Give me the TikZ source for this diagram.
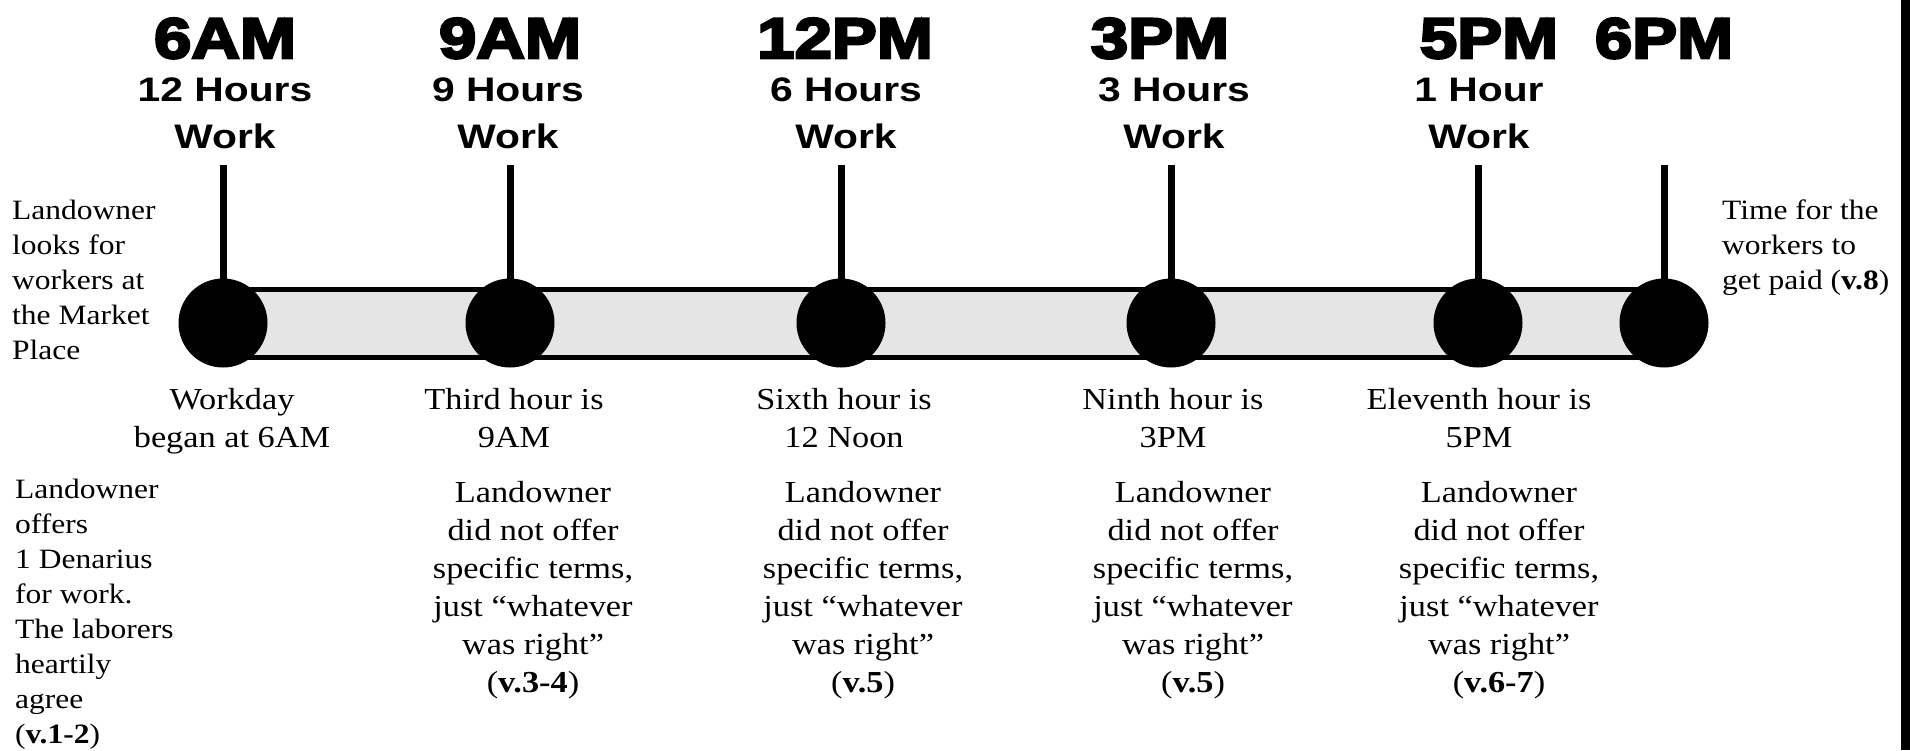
\documentclass[tikz,border=0pt]{standalone}
\usepackage{fontspec}
\setmainfont{Liberation Serif}[FakeStretch=1.125]
\newfontfamily\clockfont{Liberation Sans}[FakeStretch=1.18,BoldFeatures={FakeBold=4.5}]
\newfontfamily\hourfont{Liberation Sans}[FakeStretch=1.2]
\usetikzlibrary{positioning}
\tikzset{%
  dot/.style={circle,fill=black,inner sep=0pt,minimum size=89pt},
  stem/.style={line width=7pt},
  clock/.style={font=\clockfont\bfseries\fontsize{57}{57}\selectfont,anchor=base,inner sep=0pt},
  hours/.style={font=\hourfont\bfseries\fontsize{34}{47}\selectfont,align=center,anchor=base,inner sep=0pt},
  side/.style={font=\fontsize{28}{35}\selectfont,align=left,anchor=base west,inner sep=0pt},
  note/.style={font=\fontsize{30.5}{38}\selectfont,align=center,anchor=base,inner sep=0pt}
}

\begin{document}
\begin{tikzpicture}[x=1pt,y=-1pt]
  \useasboundingbox (0,0) rectangle (1910,750);
  \fill[black] (1901,0) rectangle (1910,750);
  %% hour marks on the bar
  \coordinate (p0) at (223,323);
  \coordinate (p1) at (510,323);
  \coordinate (p2) at (841,323);
  \coordinate (p3) at (1171,323);
  \coordinate (p4) at (1478,323);
  \coordinate (p5) at (1664,323);
  \filldraw[fill=black!10,draw=black,line width=5pt] (223,289.5) rectangle (1664,357.5);
  \coordinate (s0) at (223,165);
  \coordinate (s1) at (510,165);
  \coordinate (s2) at (841,165);
  \coordinate (s3) at (1171,165);
  \coordinate (s4) at (1478,165);
  \coordinate (s5) at (1664,165);
  \draw[stem] (s0) -- (p0);
  \draw[stem] (s1) -- (p1);
  \draw[stem] (s2) -- (p2);
  \draw[stem] (s3) -- (p3);
  \draw[stem] (s4) -- (p4);
  \draw[stem] (s5) -- (p5);
  \node[dot] (d0) at (p0) {};
  \node[dot] (d1) at (p1) {};
  \node[dot] (d2) at (p2) {};
  \node[dot] (d3) at (p3) {};
  \node[dot] (d4) at (p4) {};
  \node[dot] (d5) at (p5) {};
  %% clock times
  \node[clock] (t0) at (225,58) {6AM};
  \node[clock] (t1) at (510,58) {9AM};
  \node[clock] (t2) at (845,58) {12PM};
  \node[clock] (t3) at (1160,58) {3PM};
  \node[clock] (t4) at (1489,58) {5PM};
  \node[clock] (t5) at (1664,58) {6PM};
  \node[hours] (w0) at (225,148) {12 Hours\\Work};
  \node[hours] (w1) at (508,148) {9 Hours\\Work};
  \node[hours] (w2) at (846,148) {6 Hours\\Work};
  \node[hours] (w3) at (1174,148) {3 Hours\\Work};
  \node[hours] (w4) at (1479,148) {1 Hour\\Work};
  %% side notes
  \node[side] (l0) at (12,359) {Landowner\\looks for\\workers at\\the Market\\Place};
  \node[side] (r0) at (1722,289) {Time for the\\workers to\\get paid (\textbf{v.8})};
  \node[side] (l1) at (15,743) {Landowner\\offers\\1 Denarius\\for work.\\The laborers\\heartily\\agree\\(\textbf{v.1-2})};
  %% under the bar
  \node[note] (n0) at (232,447) {Workday\\began at 6AM};
  \node[note] (n1) at (514,447) {Third hour is\\9AM};
  \node[note] (n2) at (844,447) {Sixth hour is\\12 Noon};
  \node[note] (n3) at (1173,447) {Ninth hour is\\3PM};
  \node[note] (n4) at (1479,447) {Eleventh hour is\\5PM};
  \node[note] (m1) at (533,692) {Landowner\\did not offer\\specific terms,\\just “whatever\\was right”\\(\textbf{v.3-4})};
  \node[note] (m2) at (863,692) {Landowner\\did not offer\\specific terms,\\just “whatever\\was right”\\(\textbf{v.5})};
  \node[note] (m3) at (1193,692) {Landowner\\did not offer\\specific terms,\\just “whatever\\was right”\\(\textbf{v.5})};
  \node[note] (m4) at (1499,692) {Landowner\\did not offer\\specific terms,\\just “whatever\\was right”\\(\textbf{v.6-7})};
\end{tikzpicture}
\end{document}
